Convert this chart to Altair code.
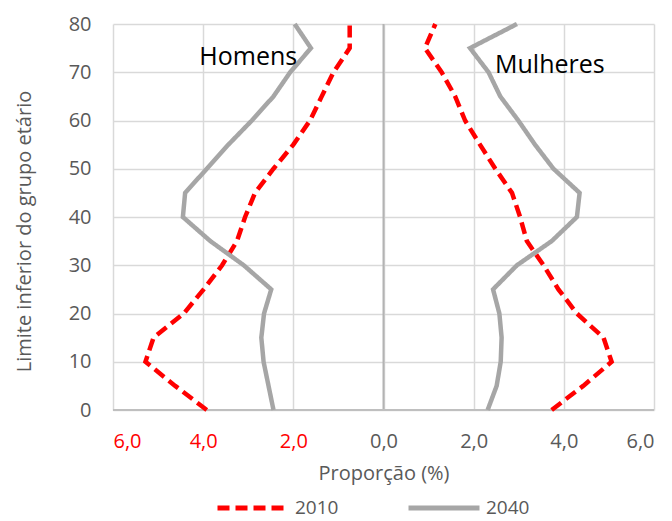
import altair as alt
import pandas as pd

ages = [0, 5, 10, 15, 20, 25, 30, 35, 40, 45, 50, 55, 60, 65, 70, 75, 80]
men_2010 = [3.92, 4.62, 5.28, 5.10, 4.43, 3.99, 3.58, 3.25, 3.07, 2.85, 2.44, 2.00, 1.63, 1.37, 1.11, 0.75, 0.75]
men_2040 = [2.44, 2.55, 2.66, 2.71, 2.65, 2.49, 3.10, 3.84, 4.45, 4.40, 3.92, 3.44, 2.92, 2.44, 2.07, 1.61, 1.97]
women_2010 = [3.73, 4.43, 5.06, 4.88, 4.29, 3.88, 3.55, 3.18, 3.03, 2.85, 2.48, 2.14, 1.81, 1.59, 1.29, 0.92, 1.15]
women_2040 = [2.31, 2.51, 2.60, 2.62, 2.57, 2.43, 2.96, 3.73, 4.29, 4.35, 3.77, 3.36, 2.99, 2.59, 2.33, 1.92, 2.96]

years = ["2010", "2040"]
label_text = ["Homens", "Mulheres"]
label_x = [-3.0, 3.69]
label_y = [73.2, 71.6]

rows = []
for sex, sign, s2010, s2040 in [("Homens", -1, men_2010, men_2040), ("Mulheres", 1, women_2010, women_2040)]:
    for yr, series in [("2010", s2010), ("2040", s2040)]:
        for a, v in zip(ages, series):
            rows.append({"sex": sex, "year": yr, "age": a, "value": sign * v})
df = pd.DataFrame(rows)
labels_df = pd.DataFrame({"text": label_text, "value": label_x, "age": label_y})
zero_df = pd.DataFrame({"value": [0]})

FONT = "Open Sans"
GRAY_TXT = "#595959"

xscale = alt.Scale(domain=[-6, 6], nice=False, zero=False)
yscale = alt.Scale(domain=[0, 80], nice=False)

legend_kw = dict(title=None, orient="none", direction="horizontal", legendX=102, legendY=446,
                 symbolType="stroke", symbolSize=5041, symbolStrokeWidth=5, padding=0,
                 labelFontSize=19, labelColor=GRAY_TXT, columnPadding=59, labelOffset=4)

lines = alt.Chart(df).mark_line(strokeWidth=4.5, strokeCap="butt").encode(
    x=alt.X("value:Q", scale=xscale,
            axis=alt.Axis(values=[-6, -4, -2, 0, 2, 4, 6],
                          labelExpr="replace(format(abs(datum.value), '.1f'), '.', ',')",
                          labelColor={"condition": {"test": "datum.value < 0", "value": "#ff0000"}, "value": GRAY_TXT},
                          title="Proporção (%)", grid=True, ticks=False, domain=False,
                          labelPadding=21, titlePadding=12, labelFontSize=20, titleFontSize=20,
                          titleColor=GRAY_TXT, titleFontWeight="normal", gridColor="#d9d9d9", gridWidth=1.5)),
    y=alt.Y("age:Q", scale=yscale,
            axis=alt.Axis(values=list(range(0, 90, 10)), title="Limite inferior do grupo etário",
                          grid=True, ticks=False, domain=False, labelPadding=22, titlePadding=34,
                          titleY=207,
                          labelFontSize=20, titleFontSize=20, labelColor=GRAY_TXT, titleColor=GRAY_TXT,
                          titleFontWeight="normal", gridColor="#d9d9d9", gridWidth=1.5)),
    color=alt.Color("year:N", scale=alt.Scale(domain=years, range=["#ff0000", "#a6a6a6"]),
                    legend=alt.Legend(**legend_kw)),
    strokeDash=alt.StrokeDash("year:N", scale=alt.Scale(domain=years, range=[[12, 6], [1, 0]]),
                              legend=alt.Legend(**legend_kw)),
    detail="sex:N",
    order="age:Q",
)

zero = alt.Chart(zero_df).mark_rule(color="#b3b3b3", strokeWidth=2).encode(x=alt.X("value:Q", scale=xscale))

bottom = alt.Chart(zero_df).mark_rule(color="#bfbfbf", strokeWidth=2).encode(
    y=alt.value(386), x=alt.value(0), x2=alt.value(541))

texts = alt.Chart(labels_df).mark_text(fontSize=25, font=FONT, color="#000000").encode(
    x=alt.X("value:Q", scale=xscale), y=alt.Y("age:Q", scale=yscale), text="text:N")

chart = alt.layer(zero, bottom, lines, texts).properties(
    width=541, height=386,
    autosize=alt.AutoSizeParams(type="none"),
    padding={"left": 105, "top": 16, "right": 8, "bottom": 116},
).configure(font=FONT).configure_view(stroke=None)

chart.save("out.html", embed_options={"renderer": "svg", "actions": False})
